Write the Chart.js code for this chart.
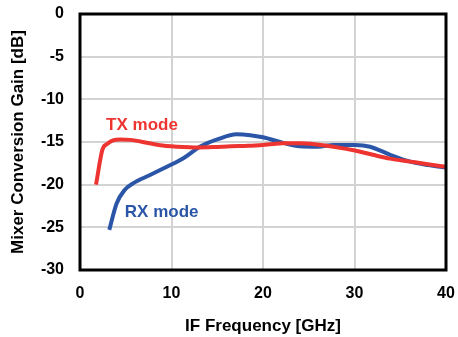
<!DOCTYPE html>
<html>
<head>
<meta charset="utf-8">
<script src="https://cdn.jsdelivr.net/npm/chart.js@4.4.1/dist/chart.umd.min.js"></script>
<style>
  html, body { margin: 0; padding: 0; background: #fff; }
  #wrap { width: 458px; height: 337px; }
</style>
</head>
<body>
<div id="wrap"><canvas id="c" width="458" height="337"></canvas></div>
<script>
// IF frequency (GHz) and conversion gain (dB), TX mode
const txFreq = [1.75, 2.45, 3.0, 3.6, 4.4, 5.5, 7.6, 9.0, 11.3, 12.5, 14.6, 16.5, 18.4, 20.5, 22.2, 24.0, 25.9, 27.7, 30.05, 32.0, 33.9, 36.1, 38.0, 40.0];
const txGain = [-20.0, -15.9, -15.2, -14.8, -14.7, -14.75, -15.15, -15.4, -15.6, -15.65, -15.6, -15.5, -15.45, -15.3, -15.15, -15.15, -15.3, -15.55, -16.0, -16.5, -16.95, -17.3, -17.6, -17.9];

// IF frequency (GHz) and conversion gain (dB), RX mode
const rxFreq = [3.2, 4.0, 4.9, 5.8, 7.6, 9.5, 11.3, 13.1, 15.0, 17.1, 18.6, 20.0, 22.2, 24.0, 26.0, 27.7, 30.05, 31.7, 33.9, 36.1, 38.0, 40.0];
const rxGain = [-25.3, -22.2, -20.6, -19.85, -18.9, -17.9, -16.9, -15.55, -14.7, -14.1, -14.2, -14.45, -15.1, -15.5, -15.55, -15.35, -15.35, -15.55, -16.5, -17.3, -17.7, -18.0];

const xTicks = [0, 10, 20, 30, 40];
const yTicks = [0, -5, -10, -15, -20, -25, -30];

const seriesLabels = ['TX mode', 'RX mode'];
const RED = '#ee3430';
const BLUE = '#2b56a8';
const FONT = '"Liberation Sans", Arial, Helvetica, sans-serif';

const toPoints = (xs, ys) => xs.map((x, i) => ({ x, y: ys[i] }));

// Heavy black frame around the plotting area
const framePlugin = {
  id: 'frame',
  afterDatasetsDraw(chart) {
    const { ctx, chartArea: a } = chart;
    ctx.save();
    ctx.strokeStyle = '#000';
    ctx.lineWidth = 3;
    ctx.strokeRect(a.left, a.top, a.right - a.left, a.bottom - a.top);
    ctx.restore();
  }
};

// Curve names written next to each curve, positioned in data units
const curveLabels = [
  { text: seriesLabels[0], x: 2.85, y: -13.1, color: RED },
  { text: seriesLabels[1], x: 4.9, y: -23.2, color: BLUE }
];
const curveLabelPlugin = {
  id: 'curveLabels',
  afterDatasetsDraw(chart) {
    const { ctx, scales } = chart;
    ctx.save();
    ctx.font = 'bold 17px ' + FONT;
    ctx.textAlign = 'left';
    ctx.textBaseline = 'middle';
    curveLabels.forEach(l => {
      ctx.fillStyle = l.color;
      ctx.fillText(l.text, scales.x.getPixelForValue(l.x), scales.y.getPixelForValue(l.y));
    });
    ctx.restore();
  }
};

// Fixed axis sizes; edge label overhang is covered by the layout padding
function fixAxis(size) {
  return function (scale) {
    if (scale.isHorizontal()) scale.height = size; else scale.width = size;
    scale.paddingTop = 0;
    scale.paddingBottom = 0;
    scale.paddingLeft = 0;
    scale.paddingRight = 0;
  };
}

new Chart(document.getElementById('c'), {
  type: 'line',
  data: {
    datasets: [
      {
        label: seriesLabels[0],
        data: toPoints(txFreq, txGain),
        borderColor: RED,
        borderWidth: 4,
        pointRadius: 0,
        cubicInterpolationMode: 'monotone',
        fill: false
      },
      {
        label: seriesLabels[1],
        data: toPoints(rxFreq, rxGain),
        borderColor: BLUE,
        borderWidth: 4,
        pointRadius: 0,
        cubicInterpolationMode: 'monotone',
        fill: false
      }
    ]
  },
  options: {
    responsive: false,
    animation: false,
    devicePixelRatio: 1,
    layout: { padding: { top: 14, right: 12, left: 0, bottom: 0 } },
    plugins: {
      legend: { display: false },
      tooltip: { enabled: false }
    },
    scales: {
      x: {
        type: 'linear',
        min: 0,
        max: 40,
        afterBuildTicks(scale) { scale.ticks = xTicks.map(v => ({ value: v })); },
        afterFit: fixAxis(67),
        grid: { color: '#d3d3d3', lineWidth: 2, drawTicks: false },
        border: { display: false },
        ticks: {
          color: '#000',
          padding: 14,
          maxRotation: 0,
          font: { family: FONT, size: 16, weight: 'bold' }
        },
        title: {
          display: true,
          text: 'IF Frequency [GHz]',
          color: '#000',
          padding: { top: 6, bottom: 0 },
          font: { family: FONT, size: 17, weight: 'bold' }
        }
      },
      y: {
        type: 'linear',
        min: -30,
        max: 0,
        afterBuildTicks(scale) { scale.ticks = yTicks.map(v => ({ value: v })); },
        afterFit: fixAxis(80),
        grid: { color: '#d3d3d3', lineWidth: 2, drawTicks: false },
        border: { display: false },
        ticks: {
          color: '#000',
          padding: 16,
          font: { family: FONT, size: 16, weight: 'bold' }
        },
        title: {
          display: true,
          text: 'Mixer Conversion Gain [dB]',
          color: '#000',
          padding: { top: 8, bottom: 0 },
          font: { family: FONT, size: 17, weight: 'bold' }
        }
      }
    }
  },
  plugins: [framePlugin, curveLabelPlugin]
});
</script>
</body>
</html>
